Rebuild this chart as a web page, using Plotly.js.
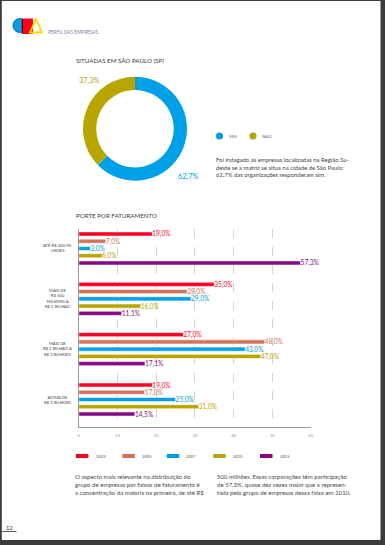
<!DOCTYPE html>
<html>
<head>
<meta charset="utf-8">
<script src="https://cdn.plot.ly/plotly-3.0.1.min.js"></script>
<style>
html,body{margin:0;padding:0;background:#fff;}
#chart{width:385px;height:545px;}
</style>
</head>
<body>
<div id="chart"></div>
<script>
// ---- data ----
const pieLabels = ['SIM', 'NÃO'];
const pieValues = [62.7, 37.3];
const pieColors = ['#00a0e6', '#b8a500'];

const categories = [
  'ATÉ R$ 500 MI-<br>LHÕES',
  'MAIS DE<br>R$ 500<br>MILHÕES A<br>R$ 1 BILHÃO',
  'MAIS DE<br>R$ 1 BILHÃO A<br>R$ 3 BILHÕES',
  'ACIMA DE<br>R$ 3 BILHÕES'
];
const years = ['2003', '2005', '2007', '2010', '2015'];
const v2003 = [19.0, 35.0, 27.0, 19.0];
const v2005 = [7.0, 28.0, 48.0, 17.0];
const v2007 = [3.0, 29.0, 43.0, 25.0];
const v2010 = [6.0, 16.0, 47.0, 31.0];
const v2015 = [57.3, 11.1, 17.1, 14.5];
const barColors = ['#ff0025', '#d4735a', '#00a0e6', '#b8a500', '#860a86'];
const xTicks = [0, 10, 20, 30, 40, 50, 60];

// ---- helpers ----
const W = 385, H = 545;
const X = p => p / W;
const Y = p => 1 - p / H;
const fmt = v => v.toFixed(1).replace('.', ',') + '%';
const FONT = 'Lato, "Open Sans", sans-serif';

const series = [v2003, v2005, v2007, v2010, v2015];

const traces = [];
traces.push({
  type: 'pie',
  labels: pieLabels,
  values: pieValues,
  marker: {colors: pieColors, line: {width: 0}},
  hole: 0.745,
  sort: false,
  direction: 'clockwise',
  rotation: 0,
  textinfo: 'none',
  hoverinfo: 'none',
  showlegend: false,
  domain: {x: [X(83), X(187)], y: [Y(180.7), Y(76.7)]}
});

series.forEach((vals, i) => {
  traces.push({
    type: 'bar',
    orientation: 'h',
    name: years[i],
    x: vals,
    y: categories,
    marker: {color: barColors[i], line: {width: 0.6, color: '#ffffff'}},
    text: vals.map(fmt),
    textposition: 'outside',
    cliponaxis: false,
    constraintext: 'none',
    textfont: {family: FONT, size: 6.6, color: barColors[i]},
    hoverinfo: 'none',
    showlegend: false,
    xaxis: 'x',
    yaxis: 'y'
  });
});

const annotations = [];
const shapes = [];
function txt(text, x, y, size, color, opts) {
  annotations.push(Object.assign({
    text: text, xref: 'paper', yref: 'paper', x: X(x), y: Y(y),
    xanchor: 'left', yanchor: 'middle', showarrow: false, align: 'left',
    font: {family: FONT, size: size, color: color}, borderpad: 0
  }, opts || {}));
}

// header
txt('PERFIL DAS EMPRESAS', 46.5, 32, 4.7, '#7a84a0');
// logo
shapes.push({type: 'circle', xref: 'paper', yref: 'paper', x0: X(13), x1: X(26), y0: Y(32.5), y1: Y(18.5), fillcolor: '#009fe3', line: {color: '#0a4f9c', width: 0.8}});
shapes.push({type: 'rect', xref: 'paper', yref: 'paper', x0: X(21.5), x1: X(33), y0: Y(34), y1: Y(18.5), fillcolor: '#ff0019', line: {width: 0}});
shapes.push({type: 'line', xref: 'paper', yref: 'paper', x0: X(22.5), x1: X(22.5), y0: Y(33), y1: Y(19), line: {color: '#1a1a1a', width: 1}});
shapes.push({type: 'path', xref: 'paper', yref: 'paper',
  path: 'M ' + X(30) + ',' + Y(32.5) + ' L ' + X(36) + ',' + Y(19) + ' L ' + X(42) + ',' + Y(32.5) + ' Z',
  fillcolor: 'rgba(0,0,0,0)', line: {color: '#ffd800', width: 1.8}});

// section titles
txt('SITUADAS EM SÃO PAULO (SP)', 74.5, 60.5, 6.2, '#3a3a3a');
txt('PORTE POR FATURAMENTO', 74.5, 215, 6.2, '#3a3a3a');

// donut value labels
txt(fmt(pieValues[1]), 77.5, 80, 7.4, pieColors[1]);
txt(fmt(pieValues[0]), 176.5, 176, 7.4, pieColors[0]);

// donut legend
const pieLegX = [219.5, 253];
pieLabels.forEach((l, i) => {
  shapes.push({type: 'circle', xref: 'paper', yref: 'paper',
    x0: X(pieLegX[i] - 3.6), x1: X(pieLegX[i] + 3.6), y0: Y(139.6), y1: Y(132.4),
    fillcolor: pieColors[i], line: {width: 0}});
  txt(l, pieLegX[i] + 8, 136.3, 4.4, '#666');
});

// donut paragraph
txt('Foi indagado às empresas localizadas na Região Su-<br>deste se a matriz se situa na cidade de São Paulo;<br>62,7% das organizações responderam sim.',
  214.5, 167.3, 5.95, '#444', {yanchor: 'middle'});

// bar category labels
categories.forEach(c => {
  annotations.push({text: c, xref: 'paper', yref: 'y', x: X(57.5), y: c,
    xanchor: 'center', yanchor: 'middle', align: 'center', showarrow: false,
    font: {family: FONT, size: 4.2, color: '#444'}});
});

// bar legend
const legX = [76, 122.3, 166.8, 213.3, 260];
years.forEach((yr, i) => {
  shapes.push({type: 'rect', xref: 'paper', yref: 'paper',
    x0: X(legX[i]), x1: X(legX[i] + 12.5), y0: Y(458), y1: Y(454),
    fillcolor: barColors[i], line: {width: 0}});
  txt(yr, legX[i] + 18.5, 456.2, 4.2, '#555');
});

// bottom text columns
txt('O aspecto mais relevante na distribuição do<br>grupo de empresas por faixas de faturamento é<br>a concentração da maioria na primeira, de até R$',
  74, 484.8, 6.05, '#4a4a4a');
txt('500 milhões. Essas corporações têm participação<br>de 57,3%, quase dez vezes maior que a represen-<br>tada pelo grupo de empresas dessa faixa em 2010.',
  215.5, 484.8, 6.05, '#4a4a4a');

// page number
txt('12', 5, 527, 5.8, '#333');
shapes.push({type: 'line', xref: 'paper', yref: 'paper', x0: 0, x1: X(16.5), y0: Y(531.5), y1: Y(531.5), line: {color: '#333', width: 0.8}});

// page frame
const frame = '#3c3c3c';
shapes.push({type: 'rect', xref: 'paper', yref: 'paper', x0: X(380.5), x1: 1, y0: 0, y1: 1, fillcolor: frame, line: {width: 0}});
shapes.push({type: 'rect', xref: 'paper', yref: 'paper', x0: 0, x1: 1, y0: 0, y1: Y(540), fillcolor: frame, line: {width: 0}});
shapes.push({type: 'rect', xref: 'paper', yref: 'paper', x0: 0, x1: X(1.8), y0: 0, y1: 1, fillcolor: frame, line: {width: 0}});
shapes.push({type: 'rect', xref: 'paper', yref: 'paper', x0: 0, x1: 1, y0: Y(1), y1: 1, fillcolor: frame, line: {width: 0}});

const layout = {
  width: W, height: H,
  margin: {l: 0, r: 0, t: 0, b: 0, pad: 0},
  paper_bgcolor: '#ffffff', plot_bgcolor: 'rgba(0,0,0,0)',
  showlegend: false,
  barmode: 'group',
  bargap: 0.28,
  bargroupgap: 0.42,
  font: {family: FONT},
  xaxis: {
    domain: [X(78.8), X(311)], range: [0, 60],
    tickvals: xTicks, ticktext: xTicks.map(String),
    showgrid: true, gridcolor: '#c9c9c9', griddash: 'dash', gridwidth: 0.8,
    showline: true, linecolor: '#9a9a9a', linewidth: 1,
    zeroline: false, ticks: '', ticklabelstandoff: 4,
    tickfont: {family: FONT, size: 4.2, color: '#999'},
    fixedrange: true
  },
  yaxis: {
    domain: [Y(427), Y(229)],
    type: 'category', categoryarray: categories, categoryorder: 'array',
    range: [3.546, -0.387],
    showticklabels: false, showgrid: false, zeroline: false,
    showline: true, linecolor: '#9a9a9a', linewidth: 1,
    fixedrange: true
  },
  annotations: annotations,
  shapes: shapes
};

Plotly.newPlot('chart', traces, layout, {displayModeBar: false, staticPlot: true});
</script>
</body>
</html>
